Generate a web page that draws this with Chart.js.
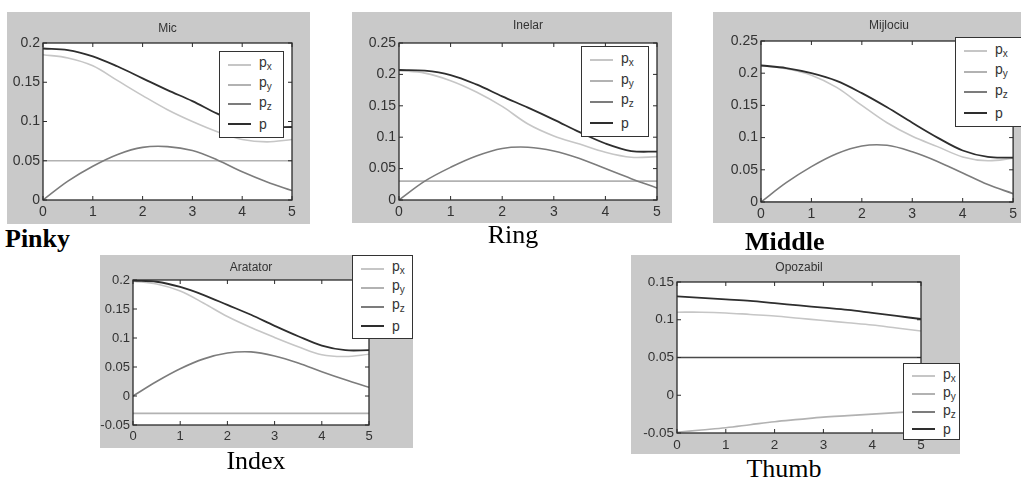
<!DOCTYPE html>
<html><head><meta charset="utf-8">
<script src="https://cdn.jsdelivr.net/npm/chart.js@4"></script>
<style>
html,body{margin:0;padding:0;background:#fff;width:1021px;height:480px;overflow:hidden;position:relative;font-family:"Liberation Sans",Arial,sans-serif;}
.panel{position:absolute;background:#c9c9c9;}
.panel canvas{position:absolute;left:0;top:0;}
.ttl{position:absolute;font-size:12px;color:#333;transform:translate(-50%,-50%);white-space:nowrap;}
.leg{position:absolute;background:#fff;border:1px solid #333;box-sizing:border-box;display:flex;flex-direction:column;justify-content:space-around;padding:3px 0;}
.row{display:flex;align-items:center;height:18px;}
.sw{width:23px;height:0;border-top:2px solid #000;margin-left:8px;margin-right:8px;}
.lb{font-size:14px;color:#333;line-height:14px;}
.lb sub{font-size:10px;vertical-align:-3px;}
.cap{position:absolute;font-family:"Liberation Serif","Times New Roman",serif;font-size:26px;line-height:26px;color:#000;white-space:nowrap;}
</style></head>
<body>
<script>
// ---------- DATA ----------
const xs = [0, 0.5, 1, 1.5, 2, 2.5, 3, 3.5, 4, 4.5, 5];
const seriesNames = ['px', 'py', 'pz', 'p'];
const titles = ['Mic', 'Inelar', 'Mijlociu', 'Aratator', 'Opozabil'];
const captions = ['Pinky', 'Ring', 'Middle', 'Index', 'Thumb'];

const micPx = [0.185, 0.181, 0.171, 0.152, 0.133, 0.115, 0.100, 0.087, 0.077, 0.074, 0.077];
const micPy = [0.05, 0.05, 0.05, 0.05, 0.05, 0.05, 0.05, 0.05, 0.05, 0.05, 0.05];
const micPz = [0, 0.024, 0.043, 0.058, 0.067, 0.068, 0.063, 0.051, 0.036, 0.023, 0.012];
const micP  = [0.193, 0.191, 0.183, 0.170, 0.155, 0.140, 0.126, 0.110, 0.097, 0.093, 0.093];

const ringPx = [0.206, 0.202, 0.190, 0.172, 0.149, 0.121, 0.102, 0.089, 0.076, 0.068, 0.069];
const ringPy = [0.03, 0.03, 0.03, 0.03, 0.03, 0.03, 0.03, 0.03, 0.03, 0.03, 0.03];
const ringPz = [0, 0.030, 0.052, 0.070, 0.082, 0.084, 0.078, 0.066, 0.050, 0.034, 0.019];
const ringP  = [0.207, 0.206, 0.199, 0.184, 0.165, 0.147, 0.128, 0.108, 0.090, 0.078, 0.077];

const midPx = [0.212, 0.207, 0.197, 0.178, 0.150, 0.123, 0.102, 0.086, 0.070, 0.064, 0.068];
const midPy = [0, 0, 0, 0, 0, 0, 0, 0, 0, 0, 0];
const midPz = [0, 0.030, 0.055, 0.075, 0.087, 0.088, 0.078, 0.063, 0.045, 0.027, 0.013];
const midP  = [0.212, 0.208, 0.200, 0.188, 0.169, 0.147, 0.123, 0.100, 0.080, 0.070, 0.069];

const idxPx = [0.198, 0.193, 0.181, 0.160, 0.137, 0.118, 0.101, 0.085, 0.071, 0.068, 0.072];
const idxPy = [-0.03, -0.03, -0.03, -0.03, -0.03, -0.03, -0.03, -0.03, -0.03, -0.03, -0.03];
const idxPz = [0, 0.025, 0.047, 0.064, 0.074, 0.076, 0.069, 0.057, 0.042, 0.028, 0.015];
const idxP  = [0.199, 0.197, 0.188, 0.174, 0.157, 0.140, 0.121, 0.103, 0.087, 0.079, 0.079];

const thPx = [0.110, 0.110, 0.109, 0.107, 0.105, 0.102, 0.099, 0.096, 0.093, 0.089, 0.085];
const thPy = [-0.049, -0.046, -0.043, -0.039, -0.035, -0.032, -0.029, -0.027, -0.025, -0.023, -0.021];
const thPz = [0.05, 0.05, 0.05, 0.05, 0.05, 0.05, 0.05, 0.05, 0.05, 0.05, 0.05];
const thP  = [0.131, 0.129, 0.127, 0.125, 0.122, 0.119, 0.116, 0.113, 0.109, 0.105, 0.101];

const yMins = [0, 0, 0, -0.05, -0.05];
const yMaxs = [0.2, 0.25, 0.25, 0.2, 0.15];
const yStep = 0.05;

// ---------- STYLE / LAYOUT ----------
const colors = ['#c6c6c6', '#b2b2b2', '#7c7c7c', '#2e2e2e'];
const allData = [
  [micPx, micPy, micPz, micP],
  [ringPx, ringPy, ringPz, ringP],
  [midPx, midPy, midPz, midP],
  [idxPx, idxPy, idxPz, idxP],
  [thPx, thPy, thPz, thP]
];
const lineColorOverride = [null, null, null, null, ['#c6c6c6', '#b2b2b2', '#4a4a4a', '#2e2e2e']];
const fontSizes = [14, 14, 14, 13, 13.5];
const layout = [
  {panel:[7,12,310,224],   plot:[43,43,292,200],   leg:[219,51,284,138], tY:28},
  {panel:[352,12,672,223], plot:[399,43,657,200],  leg:[581,46,649,137], tY:25},
  {panel:[713,12,1021,223],plot:[761,41,1017,202], leg:[955,37,1030,127], tY:25},
  {panel:[100,255,413,448],plot:[133,280,369,425], leg:[352,255,413,339], tY:267},
  {panel:[631,255,960,454],plot:[677,282,921,433], leg:[903,363,960,440], tY:267}
];
const capPos = [
  {x:5, y:226, bold:true, align:'left'},
  {x:513, y:222, bold:false, align:'center'},
  {x:745, y:229, bold:true, align:'left'},
  {x:256, y:448, bold:false, align:'center'},
  {x:784, y:456, bold:false, align:'center'}
];

const boxPlugin = {
  id: 'matlabBox',
  beforeDatasetsDraw(chart) {
    const a = chart.chartArea, c = chart.ctx;
    c.save(); c.fillStyle = '#fff'; c.fillRect(a.left, a.top, a.right - a.left, a.bottom - a.top); c.restore();
  },
  afterDatasetsDraw(chart) {
    const a = chart.chartArea, c = chart.ctx;
    c.save();
    c.strokeStyle = '#2a2a2a'; c.lineWidth = 1.3;
    c.strokeRect(a.left, a.top, a.right - a.left, a.bottom - a.top);
    c.lineWidth = 1;
    const xs_ = chart.scales.x, ys_ = chart.scales.y, L = 4;
    xs_.ticks.forEach(t => {
      const px = xs_.getPixelForValue(t.value);
      c.beginPath(); c.moveTo(px, a.bottom); c.lineTo(px, a.bottom - L);
      c.moveTo(px, a.top); c.lineTo(px, a.top + L); c.stroke();
    });
    ys_.ticks.forEach(t => {
      const py = ys_.getPixelForValue(t.value);
      c.beginPath(); c.moveTo(a.left, py); c.lineTo(a.left + L, py);
      c.moveTo(a.right, py); c.lineTo(a.right - L, py); c.stroke();
    });
    c.restore();
  }
};

function fmt(v) { const r = Math.round(v * 100) / 100; return String(r); }

layout.forEach((g, i) => {
  const [pl, pt, pr, pb] = g.panel;
  const [al, at, ar, ab] = g.plot;
  const W = pr - pl, H = pb - pt;
  const div = document.createElement('div');
  div.className = 'panel';
  div.style.left = pl + 'px'; div.style.top = pt + 'px';
  div.style.width = W + 'px'; div.style.height = H + 'px';
  document.body.appendChild(div);
  const cv = document.createElement('canvas');
  cv.width = W; cv.height = H;
  div.appendChild(cv);

  const cols = lineColorOverride[i] || colors;
  const datasets = allData[i].map((arr, k) => ({
    label: seriesNames[k],
    data: xs.map((x, j) => ({x: x, y: arr[j]})),
    borderColor: cols[k],
    borderWidth: k === 3 ? 1.8 : 1.6,
    pointRadius: 0,
    fill: false,
    tension: 0.35,
    order: k === 1 ? 5 : 4 - k
  }));
  const tf = { family: 'Liberation Sans', size: fontSizes[i] };

  new Chart(cv, {
    type: 'line',
    data: { datasets },
    plugins: [boxPlugin],
    options: {
      responsive: false, animation: false, devicePixelRatio: 1,
      layout: { padding: { top: at - pt, right: pr - ar, left: 0, bottom: 0 } },
      plugins: { legend: { display: false }, tooltip: { enabled: false }, title: { display: false } },
      scales: {
        x: {
          type: 'linear', min: 0, max: 5,
          ticks: { stepSize: 1, maxRotation: 0, padding: 4, color: '#333', font: tf, callback: v => String(v) },
          grid: { display: false, drawTicks: false }, border: { display: false },
          afterFit: s => { s.height = pb - ab; }
        },
        y: {
          type: 'linear', min: yMins[i], max: yMaxs[i],
          ticks: { stepSize: yStep, padding: 3, color: '#333', font: tf, callback: v => fmt(v) },
          grid: { display: false, drawTicks: false }, border: { display: false },
          afterFit: s => { s.width = al - pl; }
        }
      }
    }
  });

  const t = document.createElement('div');
  t.className = 'ttl'; t.textContent = titles[i];
  t.style.left = ((al + ar) / 2) + 'px'; t.style.top = g.tY + 'px';
  document.body.appendChild(t);

  const [ll, lt, lr, lb] = g.leg;
  const lg = document.createElement('div');
  lg.className = 'leg';
  lg.style.left = ll + 'px'; lg.style.top = lt + 'px';
  lg.style.width = (lr - ll) + 'px'; lg.style.height = (lb - lt) + 'px';
  seriesNames.forEach((n, k) => {
    const row = document.createElement('div'); row.className = 'row';
    const sw = document.createElement('div'); sw.className = 'sw'; sw.style.borderTopColor = colors[k];
    const lab = document.createElement('span'); lab.className = 'lb';
    lab.innerHTML = n.length > 1 ? 'p<sub>' + n.slice(1) + '</sub>' : 'p';
    row.appendChild(sw); row.appendChild(lab); lg.appendChild(row);
  });
  document.body.appendChild(lg);
});

captions.forEach((c, i) => {
  const p = capPos[i];
  const d = document.createElement('div');
  d.className = 'cap'; d.textContent = c;
  d.style.top = p.y + 'px';
  d.style.fontWeight = p.bold ? 'bold' : 'normal';
  if (p.align === 'center') { d.style.left = p.x + 'px'; d.style.transform = 'translateX(-50%)'; }
  else d.style.left = p.x + 'px';
  document.body.appendChild(d);
});
</script>
</body></html>
